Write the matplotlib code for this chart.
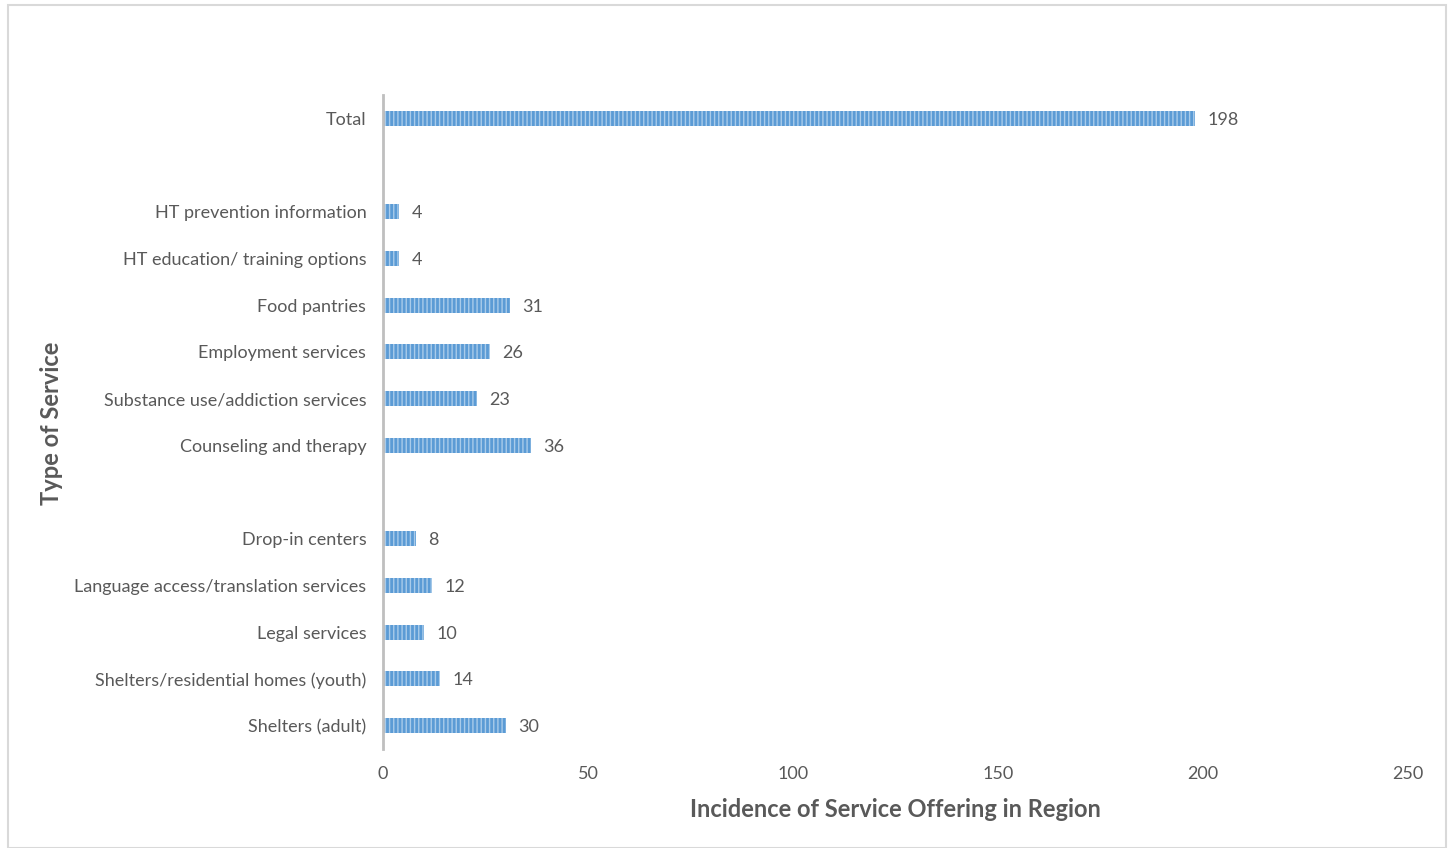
import matplotlib
matplotlib.use("Agg")
import matplotlib.pyplot as plt
from matplotlib.patches import Rectangle

plt.rcParams['font.family'] = ['Lato', 'DejaVu Sans']
plt.rcParams['hatch.linewidth'] = 1.0

# data (bottom to top, blank entries are the gaps)
services = ["Shelters (adult)", "Shelters/residential homes (youth)", "Legal services",
            "Language access/translation services", "Drop-in centers", "",
            "Counseling and therapy", "Substance use/addiction services",
            "Employment services", "Food pantries", "HT education/ training options",
            "HT prevention information", "", "Total"]
counts = [30, 14, 10, 12, 8, None, 36, 23, 26, 31, 4, 4, None, 198]
xticks = [0, 50, 100, 150, 200, 250]

txt = "#595959"
bar_col = "#5B9BD5"
hatch_col = "#A9CBEA"

fig = plt.figure(figsize=(14.5, 8.48), dpi=100)
fig.patches.append(Rectangle((8 / 1450, 0), 1438 / 1450, 843 / 848, transform=fig.transFigure,
                             fill=False, edgecolor="#D9D9D9", linewidth=1.5))
ax = fig.add_axes([383 / 1450, 1 - 749 / 848, 1025 / 1450, 654 / 848])

for i, v in enumerate(counts):
    if v is None:
        continue
    ax.barh(i, v, height=0.32, color=bar_col, edgecolor=hatch_col, hatch="||||", linewidth=0)
    ax.text(v + 3, i, str(v), va="center_baseline", ha="left", fontsize=13, color=txt)

ax.set_ylim(-0.5, len(services) - 0.5)
ax.set_xlim(0, 250)
ax.set_yticks(range(len(services)))
ax.set_yticklabels(services, fontsize=13, color=txt, va="center_baseline")
ax.set_xticks(xticks)
ax.set_xticklabels([str(t) for t in xticks], fontsize=13, color=txt)
ax.tick_params(axis="both", length=0)
ax.tick_params(axis="y", pad=12)
ax.tick_params(axis="x", pad=12)
for s in ["top", "right", "bottom"]:
    ax.spines[s].set_visible(False)
ax.spines["left"].set_color("#BFBFBF")
ax.spines["left"].set_linewidth(2)

ax.set_xlabel("Incidence of Service Offering in Region", fontsize=17, fontweight="bold",
              color=txt, labelpad=12)
fig.text(52 / 1450, 1 - 423 / 848, "Type of Service", rotation=90, fontsize=17,
         fontweight="bold", color=txt, ha="center", va="center")

fig.savefig("out.png", dpi=100)
